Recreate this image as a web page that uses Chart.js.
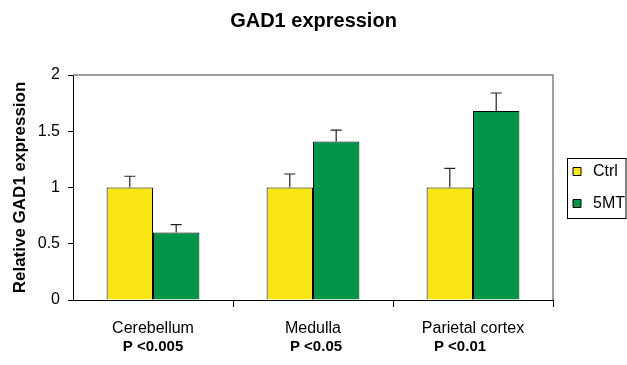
<!DOCTYPE html>
<html><head><meta charset="utf-8">
<script src="https://cdn.jsdelivr.net/npm/chart.js@4/dist/chart.umd.min.js"></script>
<style>html,body{margin:0;padding:0;background:#fff}#wrap{width:627px;height:365px}</style>
</head><body><div id="wrap"><canvas id="c" width="627" height="365"></canvas></div>
<script>
const categories = ['Cerebellum', 'Medulla', 'Parietal cortex'];
const pValues = ['P <0.005', 'P <0.05', 'P <0.01'];
const ctrlValues = [1.0, 1.0, 1.0];
const ctrlErrors = [0.10, 0.12, 0.17];
const mtValues = [0.60, 1.41, 1.68];
const mtErrors = [0.07, 0.10, 0.16];
const yTickValues = [0, 0.5, 1, 1.5, 2];

const FONT = "'Liberation Sans', Arial, sans-serif";
const pOffsets = [0, 3, -13];

const errorBars = {
  id: 'errorBars',
  afterDatasetsDraw(chart) {
    const ctx = chart.ctx, ys = chart.scales.y;
    chart.data.datasets.forEach((ds, di) => {
      const meta = chart.getDatasetMeta(di);
      meta.data.forEach((bar, i) => {
        const top = ys.getPixelForValue(ds.data[i] + ds.errors[i]);
        ctx.save();
        ctx.strokeStyle = '#222';
        ctx.lineWidth = 1.2;
        ctx.beginPath();
        ctx.moveTo(bar.x, bar.y);
        ctx.lineTo(bar.x, top);
        ctx.moveTo(bar.x - 5.5, top);
        ctx.lineTo(bar.x + 5.5, top);
        ctx.stroke();
        ctx.restore();
      });
    });
  }
};

const frame = {
  id: 'frame',
  afterDraw(chart) {
    const ctx = chart.ctx, a = chart.chartArea;
    ctx.save();
    ctx.strokeStyle = '#808080';
    ctx.lineWidth = 1.5;
    ctx.beginPath();
    ctx.moveTo(a.left, a.top);
    ctx.lineTo(a.right, a.top);
    ctx.lineTo(a.right, a.bottom);
    ctx.stroke();
    const xs = chart.scales.x;
    ctx.fillStyle = '#000';
    ctx.font = "bold 15px " + FONT;
    ctx.textAlign = 'center';
    ctx.textBaseline = 'middle';
    pValues.forEach((p, i) => {
      ctx.fillText(p, xs.getPixelForValue(i) + pOffsets[i], a.bottom + 47);
    });
    const hb = chart.legend.legendHitBoxes;
    if (hb && hb.length) {
      const l = hb[0].left - 2, t = hb[0].top - 6;
      const last = hb[hb.length - 1];
      const b = last.top + last.height + 6;
      ctx.strokeStyle = '#000';
      ctx.lineWidth = 1;
      ctx.strokeRect(Math.round(l) + 0.5, Math.round(t) + 0.5, chart.width - 1.5 - Math.round(l), Math.round(b - t));
    }
    ctx.restore();
  }
};

new Chart(document.getElementById('c'), {
  type: 'bar',
  data: {
    labels: categories,
    datasets: [
      { label: 'Ctrl', data: ctrlValues, errors: ctrlErrors, backgroundColor: '#F8E511', borderColor: '#000', borderWidth: 1 },
      { label: '5MT', data: mtValues, errors: mtErrors, backgroundColor: '#00964A', borderColor: '#000', borderWidth: 1 }
    ]
  },
  options: {
    responsive: false,
    animation: false,
    devicePixelRatio: 1,
    datasets: { bar: { categoryPercentage: 0.58, barPercentage: 1.0 } },
    layout: { padding: 0 },
    plugins: {
      title: {
        display: true, text: 'GAD1 expression', color: '#000',
        font: { family: FONT, size: 20, weight: 'bold' },
        padding: { top: 9, bottom: 42 }
      },
      legend: {
        position: 'right', fullSize: false, maxWidth: 74,
        labels: {
          usePointStyle: true, pointStyle: 'rect',
          boxWidth: 16, boxHeight: 8, padding: 16, color: '#000',
          font: { family: FONT, size: 16 }
        }
      },
      tooltip: { enabled: false }
    },
    scales: {
      x: {
        afterFit(s) { s.height = 65; },
        grid: {
          offset: true, drawOnChartArea: false, tickLength: 7,
          tickColor: (c) => (c.index === 0 || c.index === categories.length) ? 'rgba(0,0,0,0)' : '#000'
        },
        border: { color: '#000', width: 1 },
        ticks: { color: '#000', padding: 12, font: { family: FONT, size: 16 } }
      },
      y: {
        min: 0, max: 2,
        afterFit(s) { s.width = 73; },
        afterBuildTicks(s) { s.ticks = yTickValues.map(v => ({ value: v })); },
        grid: { drawOnChartArea: false, tickLength: 5, tickColor: '#000' },
        border: { color: '#000', width: 1 },
        ticks: { color: '#000', padding: 8, font: { family: FONT, size: 16 }, callback: v => String(v) },
        title: {
          display: true, text: 'Relative GAD1 expression', color: '#000',
          font: { family: FONT, size: 17, weight: 'bold' },
          padding: { top: 10, bottom: 0 }
        }
      }
    }
  },
  plugins: [errorBars, frame]
});
</script></body></html>
